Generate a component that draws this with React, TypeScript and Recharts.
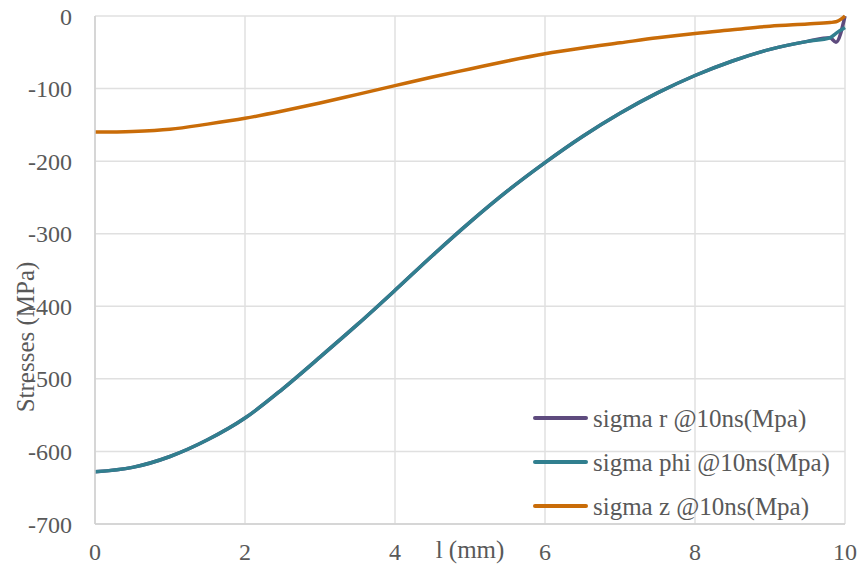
import { LineChart, Line, XAxis, YAxis, CartesianGrid } from 'recharts'

const lengths = [0, 0.5, 1, 1.5, 2, 2.5, 3, 3.5, 4, 4.5, 5, 5.5, 6, 6.5, 7, 7.5, 8, 8.5, 9, 9.5, 9.8, 9.88, 10]
const sigmaR = [-628, -622, -607, -584, -554, -514, -470, -425, -378, -330, -284, -241, -202, -166, -134, -106, -82, -62, -46, -35, -30, -36, 0]
const sigmaPhi = [-628, -622, -607, -584, -554, -514, -470, -425, -378, -330, -284, -241, -202, -166, -134, -106, -82, -62, -46, -35, -30, -24, -16]
const sigmaZ = [-160, -159, -156, -149, -141, -131, -120, -108, -96, -84, -73, -62, -52, -44, -37, -30, -24, -19, -14, -11, -9, -8, 0]

const seriesNames = ['sigma r @10ns(Mpa)', 'sigma phi @10ns(Mpa)', 'sigma z @10ns(Mpa)']
const seriesKeys = ['r', 'phi', 'z']
const seriesColors = ['#5e4b7e', '#317f8f', '#c96c08']

const xTicks = [0, 2, 4, 6, 8, 10]
const yTicks = [0, -100, -200, -300, -400, -500, -600, -700]

const FONT = '"Liberation Serif", "Times New Roman", Times, serif'
const TEXT = '#595959'

const rows = lengths.map((l, i) => ({ l, r: sigmaR[i], phi: sigmaPhi[i], z: sigmaZ[i] }))

function LegendBox() {
  return (
    <div style={{ position: 'absolute', left: 533, top: 396, fontFamily: FONT, fontSize: 25, color: TEXT, lineHeight: 1 }}>
      {seriesNames.map((name, i) => (
        <div key={name} style={{ display: 'flex', alignItems: 'center', height: 44 }}>
          <div style={{ width: 55, height: 4, borderRadius: 2, background: seriesColors[i], marginRight: 5 }} />
          <span>{name}</span>
        </div>
      ))}
    </div>
  )
}

function YTitle() {
  return (
    <text
      x={25}
      y={337}
      transform="rotate(-90 25 337)"
      textAnchor="middle"
      dominantBaseline="central"
      fontFamily={FONT}
      fontSize={25}
      fill={TEXT}
    >
      Stresses (MPa)
    </text>
  )
}

const tickStyle = { fontSize: 24, fill: TEXT, fontFamily: FONT }

export default function App() {
  return (
    <div style={{ position: 'absolute', left: 0, top: 0, background: '#fff', fontFamily: FONT, width: 858, height: 571 }}>
      <LineChart width={858} height={571} data={rows} margin={{ top: 16, right: 13, left: 0, bottom: 0 }} style={{ fontFamily: FONT }}>
        <CartesianGrid stroke="#e0e0e0" strokeWidth={1.5} />
        <XAxis
          dataKey="l"
          type="number"
          domain={[0, 10]}
          ticks={xTicks}
          height={47}
          stroke="#d0d0d0"
          strokeWidth={1.5}
          tickLine={false}
          tickSize={0}
          tickMargin={19}
          tick={tickStyle}
          label={{ value: 'l (mm)', position: 'insideBottom', offset: 13, fontSize: 25, fill: TEXT, fontFamily: FONT }}
        />
        <YAxis
          type="number"
          domain={[-700, 0]}
          ticks={yTicks}
          width={95}
          stroke="#d0d0d0"
          strokeWidth={1.5}
          tickLine={false}
          tickSize={0}
          tickMargin={23}
          tick={tickStyle}
          label={{ content: () => <YTitle /> }}
        />
        {seriesKeys.map((k, i) => (
          <Line
            key={k}
            name={seriesNames[i]}
            dataKey={k}
            type="monotone"
            stroke={seriesColors[i]}
            strokeWidth={3.5}
            dot={false}
            isAnimationActive={false}
          />
        ))}
      </LineChart>
      <LegendBox />
    </div>
  )
}
